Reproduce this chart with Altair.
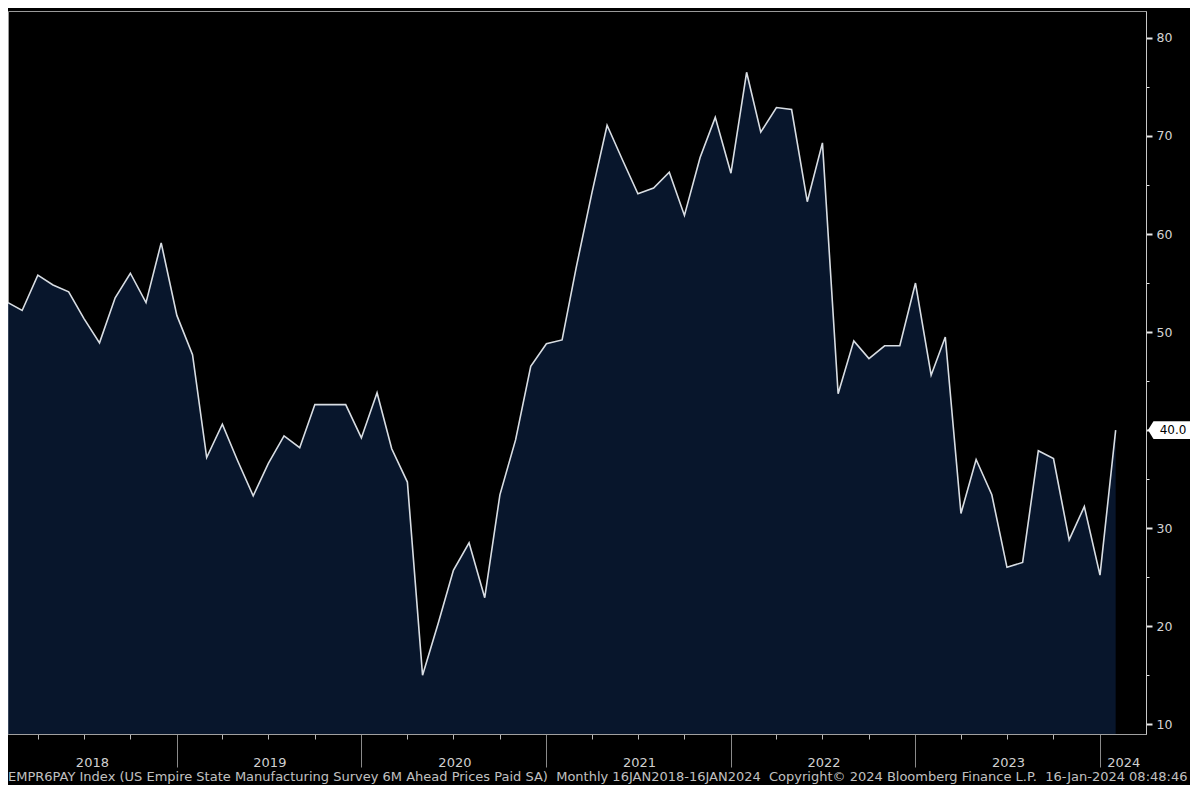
import altair as alt
import pandas as pd

# ---- data (monthly, Jan 2018 .. Jan 2024) ----
values_2018 = [53.0, 52.2, 55.8, 54.8, 54.1, 51.4, 48.9, 53.5, 56.0, 53.0, 59.1, 51.7]
values_2019 = [47.7, 37.2, 40.6, 36.9, 33.3, 36.6, 39.4, 38.2, 42.6, 42.6, 42.6, 39.2]
values_2020 = [43.8, 38.1, 34.7, 15.0, 20.3, 25.7, 28.5, 22.9, 33.4, 39.0, 46.5, 48.8]
values_2021 = [49.2, 56.6, 64.2, 71.1, 67.5, 64.1, 64.7, 66.3, 61.9, 67.8, 71.9, 66.2]
values_2022 = [76.5, 70.4, 72.9, 72.7, 63.3, 69.3, 43.7, 49.1, 47.3, 48.6, 48.6, 55.0]
values_2023 = [45.6, 49.5, 31.5, 37.0, 33.4, 26.0, 26.5, 37.9, 37.1, 28.8, 32.2, 25.2]
values_2024 = [40.0]

values = values_2018 + values_2019 + values_2020 + values_2021 + values_2022 + values_2023 + values_2024
dates = (pd.date_range("2018-01-01", periods=len(values), freq="MS") + pd.offsets.MonthEnd(0)).strftime("%Y-%m-%d").tolist()

# axis marks: quarter ends (year ends become separators) and year-label positions
quarter_ticks = (pd.date_range("2018-03-01", "2023-12-01", freq="3MS") + pd.offsets.MonthEnd(0)).strftime("%Y-%m-%d").tolist()
year_label_pos = ["2018-07-16", "2019-07-02", "2020-07-02", "2021-07-02", "2022-07-02", "2023-07-02", "2024-02-15"]
y_ticks = [10, 15, 20, 25, 30, 35, 40, 45, 50, 55, 60, 65, 70, 75, 80]

footer = ("EMPR6PAY Index (US Empire State Manufacturing Survey 6M Ahead Prices Paid SA)\u00a0 "
          "Monthly 16JAN2018-16JAN2024\u00a0 Copyright\u00a9 2024 Bloomberg Finance L.P.\u00a0 16-Jan-2024 08:48:46")

df = pd.DataFrame({"date": dates, "value": values})
last_df = pd.DataFrame({"date": [dates[-1]], "value": [values[-1]], "label": [f"{values[-1]:.1f}"]})

W, H = 1138, 723
FONT = "DejaVu Sans"
LAST = values[-1]

x_scale = alt.Scale(type="utc", domain=["2018-01-31", "2024-03-31"])
y_scale = alt.Scale(domain=[9.0, 82.75], zero=False, nice=False)

x_axis = alt.Axis(
    values=quarter_ticks + year_label_pos,
    title=None,
    grid=False,
    domainColor="#a0a0a0",
    tickSize={"condition": {"test": "utcmonth(datum.value) == 11 && utcdate(datum.value) == 31", "value": 33}, "value": 5},
    tickColor={"condition": {"test": "utcmonth(datum.value) == 11 && utcdate(datum.value) == 31", "value": "#8a8a8a"}, "value": "#b8b8b8"},
    tickOpacity={"condition": {"test": "utcdate(datum.value) < 20", "value": 0}, "value": 1},
    labelExpr="utcdate(datum.value) < 20 ? utcFormat(datum.value, '%Y') : ''",
    labelColor="#d0d0d0",
    labelFont=FONT,
    labelFontSize=13,
    labelPadding=17,
    labelOverlap=False,
    labelFlush=False,
)

y_axis = alt.Axis(
    orient="right",
    values=y_ticks,
    title=None,
    grid=False,
    domainColor="#c8c8c8",
    tickSize={"condition": {"test": "datum.value % 10 == 0", "value": 6}, "value": 3},
    tickWidth={"condition": {"test": "datum.value % 10 == 0", "value": 2}, "value": 1},
    tickColor="#e8e8e8",
    labelExpr=f"datum.value % 10 == 0 && abs(datum.value - {LAST}) > 2.5 ? '' + datum.value : ''",
    labelColor="#d4d4d4",
    labelFont=FONT,
    labelFontSize=12.5,
    labelPadding=4,
    labelOverlap=False,
)

area = alt.Chart(df).mark_area(
    color="#0b1f3e",
    clip=True,
    line={"color": "#d8dde3", "strokeWidth": 1.6},
).encode(
    x=alt.X("date:T", scale=x_scale, axis=x_axis),
    y=alt.Y("value:Q", scale=y_scale, axis=y_axis),
    y2=alt.value(H),
)

box_shape = "M-1,0 L-0.75,-0.4 L1,-0.4 L1,0.4 L-0.75,0.4 Z"
box = alt.Chart(last_df).mark_point(
    shape=box_shape, size=1936, filled=True, fill="white", opacity=1, strokeWidth=0
).encode(
    x=alt.value(W + 24),
    y=alt.Y("value:Q", scale=y_scale, axis=y_axis),
)

box_text = alt.Chart(last_df).mark_text(
    font=FONT, fontSize=12, color="#000000", align="center", baseline="middle"
).encode(
    x=alt.value(W + 27),
    y=alt.Y("value:Q", scale=y_scale, axis=y_axis),
    text="label:N",
)

chart = alt.layer(area, box, box_text).properties(
    width=W,
    height=H,
    background="#000000",
    padding={"left": 0, "top": 3, "right": 44, "bottom": 51},
    autosize=alt.AutoSizeParams(type="none"),
    title=alt.TitleParams(
        text=footer,
        orient="bottom",
        anchor="start",
        font=FONT,
        fontSize=13,
        fontWeight="normal",
        color="#c0c0c0",
        offset=-26,
    ),
).configure_view(
    stroke="#9a9a9a",
    strokeWidth=1,
)

chart.save("out.html", embed_options={"renderer": "svg", "actions": False})
